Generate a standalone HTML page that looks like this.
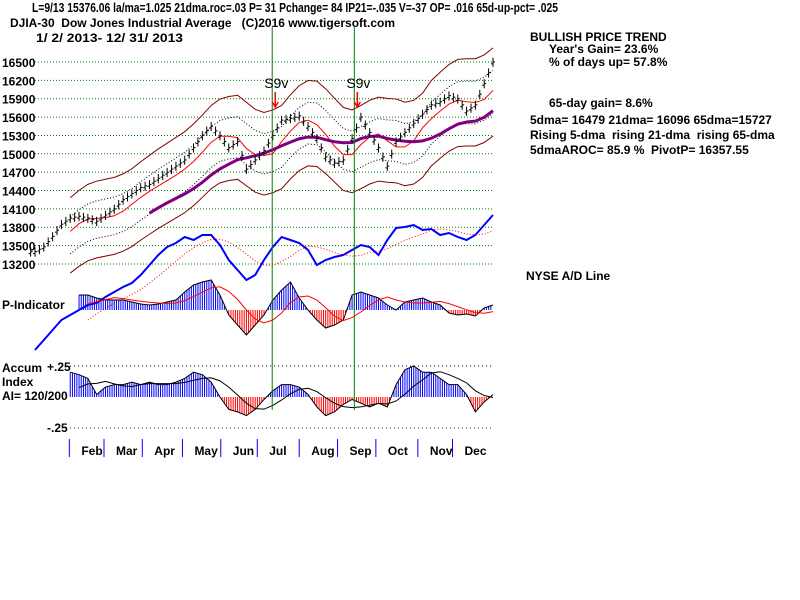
<!DOCTYPE html>
<html><head><meta charset="utf-8"><style>
body{margin:0;background:#fff;width:800px;height:600px;overflow:hidden}
svg{display:block}
text{font-family:"Liberation Sans",sans-serif;font-weight:bold;font-size:12px;fill:#000;white-space:pre}
</style></head><body>
<svg id="c" width="800" height="600">
<text x="32" y="12" textLength="526" lengthAdjust="spacingAndGlyphs" style="white-space:normal;font-size:13px">L=9/13 15376.06 la/ma=1.025 21dma.roc=.03 P= 31 Pchange= 84 IP21=-.035 V=-37 OP= .016 65d-up-pct= .025</text>
<text x="10" y="27" textLength="385" lengthAdjust="spacingAndGlyphs">DJIA-30  Dow Jones Industrial Average   (C)2016 www.tigersoft.com</text>
<text x="36" y="42" textLength="147" lengthAdjust="spacingAndGlyphs">1/ 2/ 2013- 12/ 31/ 2013</text>
<g>
<text x="530" y="41">BULLISH PRICE TREND</text>
<text x="549" y="53">Year's Gain= 23.6%</text>
<text x="549" y="66">% of days up= 57.8%</text>
<text x="549" y="107">65-day gain= 8.6%</text>
<text x="530" y="124">5dma= 16479 21dma= 16096 65dma=15727</text>
<text x="530" y="139">Rising 5-dma  rising 21-dma  rising 65-dma</text>
<text x="530" y="154">5dmaAROC= 85.9 %  PivotP= 16357.55</text>
<text x="526" y="280">NYSE A/D Line</text>
</g>
<text x="2" y="309">P-Indicator</text>
<text x="2" y="372">Accum</text>
<text x="2" y="386">Index</text>
<text x="2" y="400">AI= 120/200</text>
<text x="47" y="371">+.25</text>
<text x="47" y="432">-.25</text>
</svg>
<script>
const priceTicks=[16500,16200,15900,15600,15300,15000,14700,14400,14100,13800,13500,13200];
const months=["Feb","Mar","Apr","May","Jun","Jul","Aug","Sep","Oct","Nov","Dec"];
const monthDays=[21,40,61,83,104,124,147,168,189,212,231];
const closes=[13400,13480,13650,13850,13950,13980,13950,13900,14000,14100,14250,14350,14450,14500,14600,14700,14800,14900,15100,15300,15450,15300,15100,15200,14750,14900,15050,15300,15550,15580,15620,15450,15250,14950,14850,14900,15250,15600,15350,15100,14800,15200,15350,15500,15650,15800,15850,15950,15900,15700,15800,16150,16500];
const adLine=[5,15,25,35,40,45,50,52,58,63,68,72,80,90,100,108,112,118,115,120,120,110,95,85,75,80,95,108,118,115,112,105,90,95,98,100,105,110,108,100,115,127,128,130,125,126,120,122,118,115,120,130,140];
const pInd=[0,0,0,0,0,15,15,12,10,10,10,8,6,5,6,8,10,18,25,28,30,15,-5,-15,-25,-15,-5,10,20,28,12,0,-10,-18,-15,-10,15,18,15,12,5,0,8,10,12,8,5,-3,-5,-4,-6,2,5];
const accum=[0,0,0,0,0.2,0.18,0.15,0.02,0.08,0.1,0.1,0.12,0.1,0.12,0.1,0.1,0.12,0.15,0.2,0.18,0.12,0,-0.1,-0.12,-0.15,-0.1,-0.02,0.05,0.1,0.1,0.08,0.02,-0.08,-0.15,-0.12,-0.06,-0.02,-0.05,-0.08,-0.05,-0.08,0.1,0.22,0.25,0.2,0.2,0.15,0.1,0.1,0.02,-0.12,-0.04,0.02];
const signalDays=[130,175];
const svg=document.getElementById('c');const NS="http://www.w3.org/2000/svg";
function mk(t,a,p){const e=document.createElementNS(NS,t);for(const k in a)e.setAttribute(k,a[k]);(p||svg).appendChild(e);return e;}
const xD=d=>35+d/251*458;
const xi=i=>xD(i*251/(closes.length-1));
const yP=p=>62+(16500-p)/300*18.36;
const yAD=v=>355-v;
const yPI=v=>310-v;
const yAI=v=>397-v/0.25*31;
priceTicks.forEach(t=>{const l=mk('line',{x1:35,x2:493,y1:yP(t),y2:yP(t),stroke:'#008000','stroke-dasharray':'1,2'});

const tx=mk('text',{x:2,y:yP(t)+5});tx.textContent=t;
});
[0.25,-0.25].forEach(v=>{const l=mk('line',{x1:70,x2:493,y1:yAI(v),y2:yAI(v),stroke:v>0?'#000':'#800080','stroke-dasharray':'1,3'});
});
months.forEach((m,i)=>{const x=xD(monthDays[i]);
const l=mk('line',{x1:x-4,x2:x-4,y1:439,y2:457,stroke:'#0000ff','stroke-width':1});

const t=mk('text',{x:x+8,y:455});t.textContent=m;
});
function ma(arr,n){return arr.map((v,i)=>{const s=arr.slice(Math.max(0,i-n+1),i+1);return s.reduce((a,b)=>a+b,0)/s.length;});}
function line(pts,attrs,name){const p=mk('polyline',Object.assign({points:pts.map(q=>q.join(',')).join(' '),fill:'none'},attrs));
return p;}
const m21=ma(closes,4),mb=ma(closes,5),m65=ma(closes,13);
const st=4;
const band=(f)=>mb.map((v,i)=>[xi(i),yP(v*f)]).slice(st);
line(band(1.045),{stroke:'#800000'},'upper-band');
line(band(0.955),{stroke:'#800000'},'lower-band');
line(band(1.022),{stroke:'#000','stroke-dasharray':'1,2'},'upper-inner-band');
line(band(0.978),{stroke:'#000','stroke-dasharray':'1,2'},'lower-inner-band');
line(m21.map((v,i)=>[xi(i),yP(v)]).slice(st),{stroke:'#ff0000'},'ma-21');
line(m65.map((v,i)=>[xi(i),yP(v)]).slice(13),{stroke:'#800080','stroke-width':3},'ma-65');
closes.forEach((c,i)=>{const prev=i?closes[i-1]:c;
for(let k=0;k<2;k++){const x=xi(i)-k*4.4;const v=prev+(c-prev)*(1-k*0.5);const hi=v+70,lo=v-80;
const g=mk('g',{stroke:'#000'});
mk('line',{x1:x,x2:x,y1:yP(hi),y2:yP(lo)},g);mk('line',{x1:x,x2:x+2,y1:yP(v),y2:yP(v)},g);mk('line',{x1:x-2,x2:x,y1:yP(v-30),y2:yP(v-30)},g);}});
line(adLine.map((v,i)=>[xi(i),yAD(v)]),{stroke:'#0000ff','stroke-width':2},'ad-line');
line(ma(adLine,6).map((v,i)=>[xi(i),yAD(v)]).slice(6),{stroke:'#ff0000','stroke-dasharray':'1,2'},'ad-line-ma');
function hist(arr,yf,name){const z=yf(0);const s0=arr.findIndex(v=>v!==0);
for(let i=s0;i<arr.length-1;i++){for(let k=0;k<4;k++){const v=arr[i]+(arr[i+1]-arr[i])*k/4;const x=xi(i)+k*(xi(1)-xi(0))/4;
const l=mk('line',{x1:x,x2:x,y1:z,y2:yf(v),stroke:v>=0?'#0000ff':'#ff0000'});
}}
line(arr.map((v,i)=>[xi(i),yf(v)]).slice(s0),{stroke:'#000'},name+'-outline');
line(ma(arr,5).map((v,i)=>[xi(i),yf(v)]).slice(s0+1),{stroke:name=='p-indicator'?'#ff0000':'#000'},name+'-ma');}
hist(pInd,yPI,'p-indicator');
hist(accum,yAI,'accum-index');
signalDays.forEach(d=>{const x=xD(d);
const l=mk('line',{x1:x,x2:x,y1:27,y2:410,stroke:'#008000'});

const t=mk('text',{x:x-8,y:88,style:'font-size:14px;font-weight:normal'});t.textContent='S9v';

const a=mk('path',{d:`M${x+3},92 v14 M${x},102 l3,5 l3,-5`,stroke:'#ff0000',fill:'none','stroke-width':1.5});
});
</script>
</body></html>
